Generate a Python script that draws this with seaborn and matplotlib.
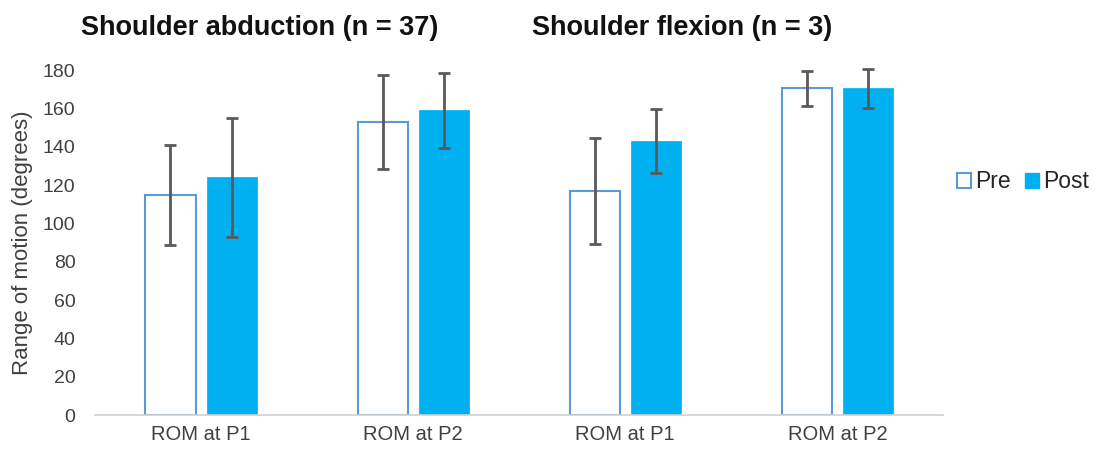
import matplotlib
matplotlib.use("Agg")
import matplotlib.pyplot as plt
import seaborn as sns
import pandas as pd
import numpy as np
from matplotlib.patches import Patch

# ---- data ----
categories = ["Abd P1", "Abd P2", "Flex P1", "Flex P2"]
tick_labels = ["ROM at P1", "ROM at P2", "ROM at P1", "ROM at P2"]
pre_mean = [115, 153, 117, 170.5]
pre_sd = [26, 24.5, 27.5, 9]
post_mean = [124, 159, 143, 170.5]
post_sd = [31, 19.5, 16.5, 10]
titles = ["Shoulder abduction (n = 37)", "Shoulder flexion (n = 3)"]

df = pd.DataFrame({
    "category": categories * 2,
    "time": ["Pre"] * 4 + ["Post"] * 4,
    "mean": pre_mean + post_mean,
    "sd": pre_sd + post_sd,
})

sns.set_theme(style="white")
plt.rcParams["font.family"] = ["Liberation Sans", "DejaVu Sans"]

pre_edge = "#5B9BD5"
post_col = "#00B0F0"

fig = plt.figure(figsize=(10.99, 4.49), dpi=100)
ax = fig.add_axes([0.0864, 0.0757, 0.772, 0.768])

sns.barplot(data=df, x="category", y="mean", hue="time", order=categories,
            hue_order=["Pre", "Post"], palette={"Pre": "white", "Post": post_col},
            width=0.576, gap=0.18, errorbar=None, ax=ax, legend=False)

# style bars and add error bars from the patches
bars = [p for p in ax.patches if p.get_width() > 0]
nc = len(categories)
for i, p in enumerate(bars):
    xc = p.get_x() + p.get_width() / 2
    if i < nc:
        p.set_facecolor("white")
        p.set_edgecolor(pre_edge)
        p.set_linewidth(1.5)
        m, s = pre_mean[i], pre_sd[i]
    else:
        p.set_facecolor(post_col)
        p.set_edgecolor(post_col)
        p.set_linewidth(0.5)
        m, s = post_mean[i - nc], post_sd[i - nc]
    eb = ax.errorbar(xc, m, yerr=s, fmt="none", ecolor="#595959", elinewidth=2,
                     capsize=4, capthick=2, zorder=5)
    for art in eb.lines[1] + eb.lines[2]:
        art.set_clip_on(False)

ax.set_ylim(0, 180)
ax.set_xlim(-0.5, nc - 0.5)
ax.set_yticks(np.arange(0, 181, 20))
ax.set_xticks(range(nc))
ax.set_xticklabels(tick_labels, fontsize=14.5, color="#404040")
ax.tick_params(axis="y", labelsize=14, colors="#404040", length=0, pad=14)
ax.tick_params(axis="x", length=0, pad=7)
ax.set_xlabel("")
ax.set_ylabel("Range of motion (degrees)", fontsize=16, color="#404040", labelpad=7)
for s in ["top", "right", "left"]:
    ax.spines[s].set_visible(False)
ax.spines["bottom"].set_color("#D0D0D0")
ax.spines["bottom"].set_linewidth(1.2)
ax.grid(False)

fig.text(0.074, 0.937, titles[0], fontsize=19.5, fontweight="bold", ha="left", va="center", color="#111111")
fig.text(0.484, 0.937, titles[1], fontsize=19.5, fontweight="bold", ha="left", va="center", color="#111111")

handles = [Patch(facecolor="white", edgecolor=pre_edge, linewidth=1.5, label="Pre"),
           Patch(facecolor=post_col, edgecolor=post_col, label="Post")]
fig.legend(handles=handles, loc="center left", bbox_to_anchor=(0.871, 0.595), ncol=2,
           frameon=False, fontsize=16.5, handlelength=0.6, handleheight=0.6,
           handletextpad=0.2, columnspacing=0.6, borderpad=0, borderaxespad=0)

fig.savefig("out.png", dpi=100)
